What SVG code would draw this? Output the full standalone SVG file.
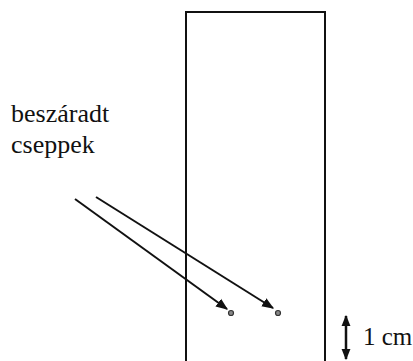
<svg xmlns="http://www.w3.org/2000/svg" width="413" height="361" viewBox="0 0 413 361">
<style>
.t{font-family:"Liberation Serif","DejaVu Serif","Times New Roman",serif;font-size:25px;fill:#111}
.lb{font-size:26px}
.ln{stroke:#111;stroke-width:2;fill:none}
</style>
<defs>
<marker id="ah" viewBox="0 0 10 10" refX="9" refY="5" markerWidth="6" markerHeight="6" orient="auto-start-reverse" markerUnits="strokeWidth">
<path d="M0,1 L10,5 L0,9 Z" fill="#111"/>
</marker>
<marker id="ah2" viewBox="0 0 10 10" refX="9" refY="5" markerWidth="4.5" markerHeight="4.5" orient="auto-start-reverse" markerUnits="strokeWidth">
<path d="M0,1 L10,5 L0,9 Z" fill="#111"/>
</marker>
</defs>
<rect width="413" height="361" fill="#fff"/>
<g id="tube">
<path class="ln" d="M186,361 L186,12 L325,12 L325,361"/>
</g>
<g id="drop1"><circle cx="231" cy="313" r="2.5" fill="#888" stroke="#333" stroke-width="1.2"/></g>
<g id="drop2"><circle cx="278" cy="313" r="2.5" fill="#888" stroke="#333" stroke-width="1.2"/></g>
<g id="label"><text class="t lb" x="11" y="122">beszáradt</text><text class="t lb" x="11" y="153">cseppek</text></g>
<g id="scale"><text class="t" x="363" y="345">1 cm</text></g>
<g id="connectors">
<line class="ln" x1="75" y1="199" x2="227" y2="309" marker-end="url(#ah)"/>
<line class="ln" x1="96" y1="197" x2="273" y2="308" marker-end="url(#ah)"/>
<line x1="346" y1="316" x2="346" y2="359" stroke="#111" stroke-width="2.5" marker-start="url(#ah2)" marker-end="url(#ah2)"/>
</g>
</svg>
